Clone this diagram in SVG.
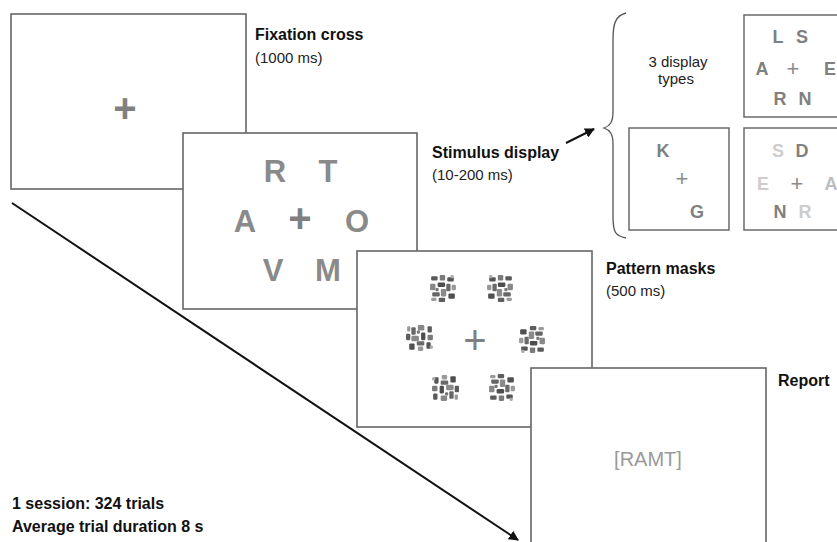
<svg xmlns="http://www.w3.org/2000/svg" width="837" height="542" viewBox="0 0 837 542">
<style>
.box{fill:#fff;stroke:#666;stroke-width:1.6}
.sbox{fill:#fff;stroke:#6a6a6a;stroke-width:1.5}
.lbl{font-family:"Liberation Sans",Arial,sans-serif;font-weight:bold;font-size:16px;fill:#111}
.sub{font-family:"Liberation Sans",Arial,sans-serif;font-size:15px;fill:#222}
.big{font-family:"Liberation Sans",Arial,sans-serif;font-weight:bold;font-size:31px;fill:#8a8a8a;text-anchor:middle}
.sm{font-family:"Liberation Sans",Arial,sans-serif;font-weight:bold;font-size:18px;fill:#808080;text-anchor:middle}
.lt{fill:#cdcdcd}
.lt2{fill:#bdbdbd}
.plusB{font-family:"Liberation Sans",Arial,sans-serif;font-weight:bold;font-size:40px;fill:#808080;text-anchor:middle}
.plusR{font-family:"Liberation Sans",Arial,sans-serif;font-size:40px;fill:#808080;text-anchor:middle}
.plusS{font-family:"Liberation Sans",Arial,sans-serif;font-size:22px;fill:#8a8a8a;text-anchor:middle}
.conn{stroke:#111;stroke-width:2;fill:none}
</style>
<defs>
<marker id="ah" viewBox="0 0 10 10" refX="9" refY="5" markerWidth="5" markerHeight="5" orient="auto" markerUnits="strokeWidth">
<path d="M0,0 L10,5 L0,10 z" fill="#111"/>
</marker>
<symbol id="mk" viewBox="0 0 26 26" overflow="visible">
<g>
<rect x="2" y="2" width="6" height="4" rx="1" fill="#5a5a5a"/>
<rect x="10" y="1" width="5" height="5" rx="1" fill="#7a7a7a"/>
<rect x="17" y="3" width="6" height="4" rx="1" fill="#555"/>
<rect x="1" y="9" width="5" height="6" rx="1" fill="#888"/>
<rect x="8" y="8" width="7" height="4" rx="1" fill="#4e4e4e"/>
<rect x="16" y="9" width="4" height="7" rx="1" fill="#6a6a6a"/>
<rect x="21" y="10" width="4" height="5" rx="1" fill="#999"/>
<rect x="3" y="17" width="7" height="4" rx="1" fill="#666"/>
<rect x="11" y="14" width="5" height="7" rx="1" fill="#8a8a8a"/>
<rect x="18" y="18" width="6" height="5" rx="1" fill="#505050"/>
<rect x="2" y="22" width="5" height="3" rx="1" fill="#9a9a9a"/>
<rect x="9" y="22" width="6" height="4" rx="1" fill="#5e5e5e"/>
<rect x="20" y="1" width="3" height="3" rx="1" fill="#aaa"/>
<rect x="6" y="13" width="3" height="3" rx="1" fill="#777"/>
</g>
</symbol>
</defs>

<g id="connectors">
<line class="conn" x1="12" y1="203" x2="518" y2="540" marker-end="url(#ah)"/>
<line class="conn" x1="566" y1="143" x2="594" y2="129" stroke-width="1.6" marker-end="url(#ah)"/>
<path d="M626 13 C615 16 613 24 613 40 L613 112 C613 122 610 126 604 128 C610 130 613 134 613 144 L613 216 C613 232 615 236 626 238" fill="none" stroke="#555" stroke-width="1.3"/>
</g>

<g id="fixation">
<rect class="box" x="11" y="14" width="235" height="175"/>
<text class="plusB" x="125" y="122">+</text>
<text class="lbl" x="255" y="40">Fixation cross</text>
<text class="sub" x="255" y="63">(1000 ms)</text>
</g>

<g id="stimulus">
<rect class="box" x="183" y="133" width="234" height="176"/>
<text class="big" x="275" y="182">R</text>
<text class="big" x="328" y="182">T</text>
<text class="big" x="245" y="232">A</text>
<text class="plusB" x="300" y="232">+</text>
<text class="big" x="357" y="232">O</text>
<text class="big" x="273" y="281">V</text>
<text class="big" x="328" y="281">M</text>
<text class="lbl" x="432" y="158">Stimulus display</text>
<text class="sub" x="432" y="180">(10-200 ms)</text>
</g>

<g id="display-types">
<text class="sub" x="678" y="67" text-anchor="middle" font-size="16">3 display</text>
<text class="sub" x="676" y="84" text-anchor="middle" font-size="16">types</text>
<rect class="sbox" x="744" y="15" width="110" height="102"/>
<text class="sm" x="778" y="43">L</text>
<text class="sm" x="802" y="43">S</text>
<text class="sm" x="762" y="75">A</text>
<text class="plusS" x="793" y="76">+</text>
<text class="sm" x="830" y="75">E</text>
<text class="sm" x="780" y="105">R</text>
<text class="sm" x="805" y="105">N</text>
<rect class="sbox" x="629" y="128" width="100" height="102"/>
<text class="sm" x="663" y="157">K</text>
<text class="plusS" x="682" y="186">+</text>
<text class="sm" x="697" y="218">G</text>
<rect class="sbox" x="744" y="128" width="110" height="102"/>
<text class="sm lt" x="778" y="157">S</text>
<text class="sm" x="802" y="157">D</text>
<text class="sm lt" x="763" y="190">E</text>
<text class="plusS" x="797" y="191">+</text>
<text class="sm lt2" x="831" y="190">A</text>
<text class="sm" x="780" y="218">N</text>
<text class="sm lt" x="805" y="218">R</text>
</g>

<g id="masks">
<rect class="box" x="357" y="251" width="235" height="176"/>
<use href="#mk" x="429" y="274" width="28" height="28"/>
<use href="#mk" x="486" y="274" width="28" height="28" transform="translate(1000 0) scale(-1 1)"/>
<use href="#mk" x="406" y="324" width="28" height="28" transform="rotate(90 420 338)"/>
<text class="plusR" x="475" y="354">+</text>
<use href="#mk" x="518" y="326" width="28" height="28" transform="rotate(180 532 340)"/>
<use href="#mk" x="431" y="374" width="28" height="28" transform="rotate(-90 445 388)"/>
<use href="#mk" x="488" y="374" width="28" height="28" transform="translate(0 776) scale(1 -1)"/>
<text class="lbl" x="606" y="274">Pattern masks</text>
<text class="sub" x="606" y="296">(500 ms)</text>
</g>

<g id="report">
<rect class="box" x="531" y="368" width="235" height="190"/>
<text x="648" y="466" text-anchor="middle" font-family="Liberation Sans, Arial, sans-serif" font-size="20" fill="#9a9a9a">[RAMT]</text>
<text class="lbl" x="778" y="386">Report</text>
</g>

<g id="summary">
<text class="lbl" x="12" y="509">1 session: 324 trials</text>
<text class="lbl" x="12" y="532">Average trial duration 8 s</text>
</g>
</svg>
